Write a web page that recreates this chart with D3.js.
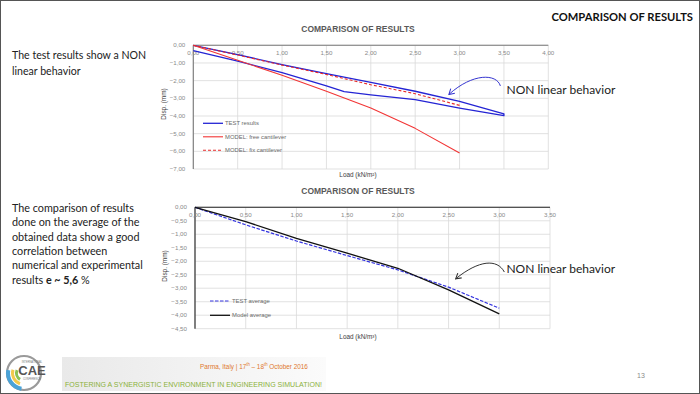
<!DOCTYPE html>
<html>
<head>
<meta charset="utf-8">
<script src="https://cdn.jsdelivr.net/npm/d3@7"></script>
<style>
  html, body { margin: 0; padding: 0; background: #fff; }
  svg { display: block; }
</style>
</head>
<body>
<svg id="slide" width="700" height="394"></svg>
<script>
// ---- chart 1 data (load kN/m2 vs displacement mm) ----
const xTicks1 = [0, 0.5, 1, 1.5, 2, 2.5, 3, 3.5, 4];
const yTicks1 = [0, -1, -2, -3, -4, -5, -6, -7];
// test loop: loading branch then unloading branch
const testLoad = [0, 0.5, 1.0, 1.5, 1.7, 2.0, 2.5, 3.0, 3.5, 3.5, 3.0, 2.5, 2.0, 1.5, 1.0, 0.5, 0];
const testDisp = [-0.3, -0.9, -1.55, -2.3, -2.62, -2.8, -3.08, -3.55, -3.98, -3.88, -3.17, -2.6, -2.1, -1.6, -1.09, -0.53, 0];
const modelLoad = [0, 0.5, 1.0, 1.5, 2.0, 2.5, 3.0];
const freeDisp = [0, -0.85, -1.7, -2.6, -3.55, -4.7, -6.1];
const fixDisp = [0, -0.55, -1.12, -1.65, -2.23, -2.74, -3.4];

// ---- chart 2 data (averages) ----
const xTicks2 = [0, 0.5, 1, 1.5, 2, 2.5, 3, 3.5];
const yTicks2 = [0, -0.5, -1, -1.5, -2, -2.5, -3, -3.5, -4, -4.5];
const avgLoad = [0, 0.5, 1.0, 1.5, 2.0, 2.5, 3.0];
const testAvg = [0, -0.65, -1.25, -1.79, -2.32, -2.96, -3.74];
const modelAvg = [0, -0.53, -1.15, -1.70, -2.26, -3.06, -3.95];

const fmt = d3.formatLocale({decimal: ",", thousands: ".", grouping: [3], currency: ["", ""]}).format(".2f");
const svg = d3.select('#slide');
const slideFont = 'Lato, "Open Sans", sans-serif';
const chartFont = '"Liberation Sans", Arial, sans-serif';

// slide frame
svg.append('rect').attr('x', 0.5).attr('y', 0.5).attr('width', 699).attr('height', 393)
  .attr('fill', '#fff').attr('stroke', '#555').attr('stroke-width', 1);

svg.append('text').attr('x', 693).attr('y', 21).attr('text-anchor', 'end')
  .attr('font-family', slideFont).attr('font-weight', 700).attr('font-size', 11.2)
  .attr('fill', '#111').text('COMPARISON OF RESULTS');

function addLines(lines, x, y0, step, size) {
  const t = svg.append('text').attr('font-family', slideFont).attr('font-size', size).attr('fill', '#222');
  lines.forEach((ln, i) => {
    const ts = t.append('tspan').attr('x', x).attr('y', y0 + i * step);
    ln.forEach(part => ts.append('tspan').attr('font-weight', part.b ? 700 : 400).text(part.t));
  });
}
addLines([[{t: 'The test results show a NON'}], [{t: 'linear behavior'}]], 12, 59, 16, 10.6);
addLines([
  [{t: 'The comparison of results'}],
  [{t: 'done on the average of the'}],
  [{t: 'obtained data show a good'}],
  [{t: 'correlation between'}],
  [{t: 'numerical and experimental'}],
  [{t: 'results '}, {t: 'e ~ 5,6', b: true}, {t: ' %'}]
], 12, 212, 14.3, 10.8);

const defs = svg.append('defs');
['#3535d0', '#333'].forEach((c, i) => {
  defs.append('marker').attr('id', 'arr' + i).attr('viewBox', '0 0 8 8')
    .attr('refX', 7).attr('refY', 4).attr('markerWidth', 7).attr('markerHeight', 7)
    .attr('markerUnits', 'userSpaceOnUse').attr('orient', 'auto')
    .append('path').attr('d', 'M1,0.5 L7,4 L1,7.5').attr('fill', 'none')
    .attr('stroke', c).attr('stroke-width', 1.2);
});

function drawChart(cfg) {
  const x = d3.scaleLinear().domain([0, cfg.xMax]).range([cfg.left, cfg.right]);
  const y = d3.scaleLinear().domain([0, cfg.yMin]).range([cfg.top, cfg.bottom]);
  const g = svg.append('g');

  // grid
  g.selectAll('.vg').data(cfg.xTicks).join('line')
    .attr('x1', d => x(d)).attr('x2', d => x(d)).attr('y1', cfg.top).attr('y2', cfg.bottom)
    .attr('stroke', '#d9d9d9').attr('stroke-width', 0.8);
  g.selectAll('.hg').data(cfg.yTicks).join('line')
    .attr('x1', cfg.left).attr('x2', cfg.right).attr('y1', d => y(d)).attr('y2', d => y(d))
    .attr('stroke', '#d9d9d9').attr('stroke-width', 0.8);

  // axes lines
  g.append('line').attr('x1', cfg.left).attr('x2', cfg.right).attr('y1', y(0)).attr('y2', y(0))
    .attr('stroke', cfg.axisColor).attr('stroke-width', 1.1);
  g.append('line').attr('x1', x(0)).attr('x2', x(0)).attr('y1', cfg.top).attr('y2', cfg.bottom)
    .attr('stroke', cfg.axisColor).attr('stroke-width', 1.1);

  // tick labels
  g.selectAll('.xl').data(cfg.xTicks).join('text')
    .attr('x', d => x(d)).attr('y', y(0) + 10).attr('text-anchor', 'middle')
    .attr('font-family', chartFont).attr('font-size', 6.2).attr('fill', '#8a8a8a')
    .text(d => fmt(d));
  g.selectAll('.yl').data(cfg.yTicks).join('text')
    .attr('x', cfg.left - 8).attr('y', d => y(d) + 2).attr('text-anchor', 'end')
    .attr('font-family', chartFont).attr('font-size', 6.2).attr('fill', '#8a8a8a')
    .text(d => fmt(d));

  // titles
  g.append('text').attr('x', cfg.titleX).attr('y', cfg.titleY).attr('text-anchor', 'middle')
    .attr('font-family', chartFont).attr('font-weight', 700).attr('font-size', 8.5)
    .attr('fill', '#595959').text('COMPARISON OF RESULTS');
  g.append('text').attr('x', cfg.titleX).attr('y', cfg.xTitleY).attr('text-anchor', 'middle')
    .attr('font-family', chartFont).attr('font-size', 6.4).attr('fill', '#404040')
    .text(cfg.xTitle);
  g.append('text').attr('transform', `translate(${cfg.yTitleX},${cfg.yTitleY}) rotate(-90)`)
    .attr('text-anchor', 'middle').attr('font-family', chartFont).attr('font-size', 6.4)
    .attr('fill', '#404040').text('Disp. (mm)');

  // series
  const line = d3.line().x(d => x(d[0])).y(d => y(d[1]));
  cfg.series.forEach(s => {
    g.append('path').datum(d3.zip(s.xs, s.ys)).attr('d', line)
      .attr('fill', 'none').attr('stroke', s.color).attr('stroke-width', s.width)
      .attr('stroke-dasharray', s.dash || null).attr('stroke-linejoin', 'round');
  });

  // legend
  cfg.series.forEach((s, i) => {
    const ly = cfg.legendY + i * cfg.legendStep;
    g.append('line').attr('x1', cfg.legendX).attr('x2', cfg.legendX + 20).attr('y1', ly).attr('y2', ly)
      .attr('stroke', s.color).attr('stroke-width', s.width).attr('stroke-dasharray', s.dash || null);
    g.append('text').attr('x', cfg.legendX + 22).attr('y', ly + 2)
      .attr('font-family', chartFont).attr('font-size', 5.9).attr('fill', '#6a6a6a').text(s.name);
  });

  // annotation
  const a = cfg.note;
  const p = d3.path();
  p.moveTo(x(a.from[0]), y(a.from[1]));
  p.bezierCurveTo(x(a.c1[0]), y(a.c1[1]), x(a.c2[0]), y(a.c2[1]), x(a.to[0]), y(a.to[1]));
  g.append('path').attr('d', p.toString()).attr('fill', 'none').attr('stroke', a.color)
    .attr('stroke-width', 1).attr('marker-end', `url(#${a.marker})`);
  g.append('text').attr('x', x(a.textAt[0])).attr('y', y(a.textAt[1]))
    .attr('font-family', slideFont).attr('font-size', 12).attr('fill', '#222')
    .text('NON linear behavior');
}

drawChart({
  left: 193.3, right: 548.3, top: 45.3, bottom: 169, xMax: 4, yMin: -7,
  xTicks: xTicks1, yTicks: yTicks1, axisColor: '#7a7a7a',
  titleX: 358, titleY: 32, xTitleY: 177, xTitle: 'Load (kN/m²)', yTitleX: 166, yTitleY: 104,
  legendX: 203, legendY: 123.3, legendStep: 13.5,
  series: [
    {name: 'TEST results', xs: testLoad, ys: testDisp, color: '#2424d4', width: 1.3},
    {name: 'MODEL: free cantilever', xs: modelLoad, ys: freeDisp, color: '#f23535', width: 1.1},
    {name: 'MODEL: fix cantilever', xs: modelLoad, ys: fixDisp, color: '#e82a2a', width: 1.1, dash: '3,2'}
  ],
  note: {from: [3.46, -2.3], c1: [3.42, -1.6], c2: [3.15, -1.55], to: [2.88, -2.78],
         textAt: [3.53, -2.75], color: '#3535d0', marker: 'arr0'}
});

drawChart({
  left: 195, right: 550, top: 207.3, bottom: 328.7, xMax: 3.5, yMin: -4.5,
  xTicks: xTicks2, yTicks: yTicks2, axisColor: '#222',
  titleX: 358, titleY: 194, xTitleY: 339, xTitle: 'Load (kN/m³)', yTitleX: 167, yTitleY: 266,
  legendX: 210, legendY: 301, legendStep: 14.3,
  series: [
    {name: 'TEST average', xs: avgLoad, ys: testAvg, color: '#3434e0', width: 1.2, dash: '3.5,1.5'},
    {name: 'Model average', xs: avgLoad, ys: modelAvg, color: '#111', width: 1.3}
  ],
  note: {from: [3.05, -2.4], c1: [2.98, -1.9], c2: [2.8, -1.95], to: [2.57, -2.65],
         textAt: [3.07, -2.43], color: '#333', marker: 'arr1'}
});

// ---- footer ----
const grad = defs.append('linearGradient').attr('id', 'band');
grad.append('stop').attr('offset', '0%').attr('stop-color', '#e9e9e9');
grad.append('stop').attr('offset', '100%').attr('stop-color', '#fbfbfb');
svg.append('rect').attr('x', 62).attr('y', 357).attr('width', 264).attr('height', 34).attr('fill', 'url(#band)');
svg.append('text').attr('transform', 'translate(200,369) scale(0.85,1)')
  .attr('font-family', chartFont).attr('font-size', 7.5).attr('fill', '#e0782e')
  .html('Parma, Italy | 17<tspan font-size="5" dy="-3">th</tspan><tspan dy="3"> – 18</tspan><tspan font-size="5" dy="-3">th</tspan><tspan dy="3"> October 2016</tspan>');
svg.append('text').attr('x', 65).attr('y', 387)
  .attr('font-family', chartFont).attr('font-size', 7.4).attr('fill', '#8bb13a')
  .attr('textLength', 257).attr('lengthAdjust', 'spacingAndGlyphs')
  .text('FOSTERING A SYNERGISTIC ENVIRONMENT IN ENGINEERING SIMULATION!');
svg.append('text').attr('x', 641).attr('y', 378).attr('text-anchor', 'middle')
  .attr('font-family', chartFont).attr('font-size', 7).attr('fill', '#8a8a8a').text('13');

// logo
const logo = svg.append('g').attr('transform', 'translate(24,373)');
logo.append('circle').attr('r', 17).attr('fill', '#fff').attr('stroke', '#9a9a9a').attr('stroke-width', 2.2);
const arc = d3.arc();
[['#4aa3d8', 14, 18, 3.3, 4.9], ['#f2c94c', 10, 13, 3.5, 5.0], ['#8cc152', 6, 9, 3.7, 5.1]].forEach(a => {
  logo.append('path').attr('d', arc({innerRadius: a[1], outerRadius: a[2], startAngle: a[3], endAngle: a[4]}))
    .attr('fill', a[0]);
});
logo.append('text').attr('x', 8).attr('y', 2).attr('text-anchor', 'middle')
  .attr('font-family', chartFont).attr('font-weight', 700).attr('font-size', 13).attr('fill', '#555').text('CAE');
logo.append('text').attr('x', 8).attr('y', -10).attr('text-anchor', 'middle')
  .attr('font-family', chartFont).attr('font-size', 2.6).attr('fill', '#777').text('INTERNATIONAL');
logo.append('text').attr('x', 8).attr('y', 7).attr('text-anchor', 'middle')
  .attr('font-family', chartFont).attr('font-size', 2.6).attr('fill', '#777').text('CONFERENCE');
</script>
</body>
</html>
